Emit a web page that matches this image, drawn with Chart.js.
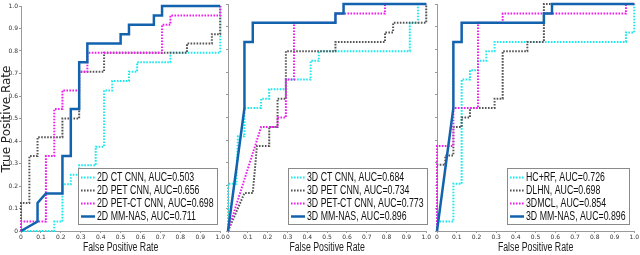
<!DOCTYPE html>
<html>
<head>
<meta charset="utf-8">
<script src="https://cdn.jsdelivr.net/npm/chart.js@4.4.1/dist/chart.umd.min.js"></script>
<style>
  html, body { margin: 0; padding: 0; background: #fff; }
  #wrap { position: relative; width: 640px; height: 255px; overflow: hidden; }
  #wrap canvas { position: absolute; top: 0; }
</style>
</head>
<body>
<div id="wrap">
  <canvas id="roc2d" width="226" height="255" style="left:0"></canvas>
  <canvas id="roc3d" width="208" height="255" style="left:224px"></canvas>
  <canvas id="rocCmp" width="208" height="255" style="left:432px"></canvas>
</div>
<script>
// ---------------------------
// data (fpr / tpr corner points)
// ---------------------------

// panel 1: 2D models
const labels2d = ['2D CT CNN, AUC=0.503', '2D PET CNN, AUC=0.656', '2D PET-CT CNN, AUC=0.698', '2D MM-NAS, AUC=0.711'];
const fpr2dCT = [0, 0.167, 0.167, 0.208, 0.208, 0.25, 0.25, 0.292, 0.292, 0.375, 0.375, 0.417, 0.417, 0.458, 0.458, 0.542, 0.542, 0.583, 0.583, 0.75, 0.75, 1, 1];
const tpr2dCT = [0, 0, 0.042, 0.042, 0.208, 0.208, 0.25, 0.25, 0.292, 0.292, 0.375, 0.375, 0.625, 0.625, 0.667, 0.667, 0.708, 0.708, 0.75, 0.75, 0.792, 0.792, 1];
const fpr2dPET = [0, 0, 0.042, 0.042, 0.083, 0.083, 0.208, 0.208, 0.292, 0.292, 0.417, 0.417, 0.833, 0.833, 0.958, 0.958, 1, 1];
const tpr2dPET = [0, 0.125, 0.125, 0.333, 0.333, 0.417, 0.417, 0.5, 0.5, 0.708, 0.708, 0.792, 0.792, 0.833, 0.833, 0.875, 0.875, 1];
const fpr2dPETCT = [0, 0, 0.125, 0.125, 0.167, 0.167, 0.208, 0.208, 0.292, 0.292, 0.333, 0.333, 0.708, 0.708, 0.75, 0.75, 1, 1];
const tpr2dPETCT = [0, 0.042, 0.042, 0.333, 0.333, 0.542, 0.542, 0.625, 0.625, 0.708, 0.708, 0.792, 0.792, 0.917, 0.917, 0.958, 0.958, 1];
const fpr2dNAS = [0, 0.083, 0.083, 0.125, 0.208, 0.208, 0.25, 0.25, 0.292, 0.292, 0.333, 0.333, 0.5, 0.5, 0.542, 0.542, 0.667, 0.667, 0.708, 0.708, 1];
const tpr2dNAS = [0, 0.042, 0.125, 0.167, 0.167, 0.333, 0.333, 0.542, 0.542, 0.75, 0.75, 0.833, 0.833, 0.875, 0.875, 0.917, 0.917, 0.958, 0.958, 1, 1];

// panel 2: 3D models
const labels3d = ['3D CT CNN, AUC=0.684', '3D PET CNN, AUC=0.734', '3D PET-CT CNN, AUC=0.773', '3D MM-NAS, AUC=0.896'];
const fpr3dCT = [0, 0, 0.042, 0.05, 0.083, 0.083, 0.167, 0.167, 0.208, 0.208, 0.292, 0.292, 0.417, 0.417, 0.458, 0.458, 0.917, 0.917, 0.958, 0.958, 1];
const tpr3dCT = [0, 0.208, 0.208, 0.417, 0.417, 0.542, 0.542, 0.583, 0.583, 0.625, 0.625, 0.667, 0.667, 0.75, 0.75, 0.792, 0.792, 0.917, 0.917, 1, 1];
const fpr3dPET = [0, 0.083, 0.125, 0.146, 0.208, 0.208, 0.25, 0.25, 0.292, 0.292, 0.542, 0.542, 0.792, 0.792, 0.833, 0.833, 1, 1];
const tpr3dPET = [0, 0.167, 0.167, 0.375, 0.375, 0.458, 0.458, 0.583, 0.583, 0.792, 0.792, 0.833, 0.833, 0.875, 0.875, 0.917, 0.917, 1];
const fpr3dPETCT = [0, 0.167, 0.25, 0.25, 0.292, 0.292, 0.333, 0.333, 0.542, 0.542, 0.792, 0.792, 1];
const tpr3dPETCT = [0, 0.458, 0.458, 0.5, 0.5, 0.667, 0.667, 0.917, 0.917, 0.958, 0.958, 1, 1];
const fprNAS = [0, 0.083, 0.083, 0.125, 0.125, 0.542, 0.542, 0.583, 0.583, 1];
const tprNAS = [0, 0.542, 0.833, 0.833, 0.917, 0.917, 0.958, 0.958, 1, 1];

// panel 3: compared methods
const labelsCmp = ['HC+RF, AUC=0.726', 'DLHN, AUC=0.698', '3DMCL, AUC=0.854', '3D MM-NAS, AUC=0.896'];
const fprHCRF = [0, 0, 0.083, 0.083, 0.125, 0.125, 0.167, 0.167, 0.208, 0.208, 0.25, 0.25, 0.292, 0.292, 0.958, 0.958, 1, 1];
const tprHCRF = [0, 0.042, 0.042, 0.208, 0.208, 0.667, 0.667, 0.708, 0.708, 0.75, 0.75, 0.792, 0.792, 0.833, 0.833, 0.875, 0.875, 1];
const fprDLHN = [0, 0, 0.042, 0.042, 0.083, 0.083, 0.125, 0.125, 0.167, 0.167, 0.292, 0.292, 0.333, 0.333, 0.458, 0.458, 0.542, 0.542, 1];
const tprDLHN = [0, 0.292, 0.292, 0.333, 0.333, 0.458, 0.458, 0.5, 0.5, 0.542, 0.542, 0.583, 0.583, 0.792, 0.792, 0.833, 0.833, 1, 1];
const fprMCL = [0, 0, 0.083, 0.083, 0.208, 0.208, 0.333, 0.333, 0.958, 0.958, 1];
const tprMCL = [0, 0.375, 0.375, 0.542, 0.542, 0.917, 0.917, 0.958, 0.958, 1, 1];

const axisTicks = { min: 0, max: 1, step: 0.1 };
const xTitle = 'False Positive Rate';
const yTitle = 'True Positive Rate';

// ---------------------------
// styles
// ---------------------------
const FONT = '"Liberation Sans", Arial, sans-serif';
const NARROW = 0.73;   // horizontal squeeze, the figure uses a narrow face
const lineStyles = [
    { color: '#1de8ee', dash: [1.6, 1.4], width: 2, order: 3 },   // cyan dotted
    { color: '#555555', dash: [1.6, 1.4], width: 2, order: 2 },   // gray dotted
    { color: '#ee1fee', dash: [1.6, 1.4], width: 2, order: 1 },   // magenta dotted
    { color: '#1262ae', dash: [], width: 2.5, order: 0 }          // blue solid
];

const pts = (xs, ys) => xs.map((x, i) => ({ x: x, y: ys[i] }));

function narrowText(ctx, text, x, y, align) {
    ctx.save();
    ctx.translate(x, y);
    ctx.scale(NARROW, 1);
    ctx.textAlign = align;
    ctx.fillText(text, 0, 0);
    ctx.restore();
}

// legend box (lower right of the plot) and axis titles
const boxLegend = {
    id: 'boxLegend',
    afterDatasetsDraw(chart, args, opts) {
        const ctx = chart.ctx;
        const area = chart.chartArea;
        const sets = chart.data.datasets;
        ctx.save();
        ctx.font = '12px ' + FONT;
        let tw = 0;
        sets.forEach(d => { tw = Math.max(tw, ctx.measureText(d.label).width * NARROW); });
        const rowH = 13, sample = 14;
        const w = Math.round(3 + sample + 2 + tw + 4);
        const h = sets.length * rowH + 5;
        const right = Math.round(area.right + opts.dx);
        const bottom = Math.round(area.bottom - 6);
        const left = right - w, top = bottom - h;
        ctx.fillStyle = '#fff';
        ctx.fillRect(left, top, w, h);
        ctx.strokeStyle = '#8a8a8a';
        ctx.lineWidth = 1;
        ctx.strokeRect(left + 0.5, top + 0.5, w - 1, h - 1);
        sets.forEach((d, i) => {
            const y = top + 9.5 + i * rowH;
            ctx.beginPath();
            ctx.setLineDash(d.borderDash || []);
            ctx.lineWidth = d.borderWidth;
            ctx.strokeStyle = d.borderColor;
            ctx.moveTo(left + 3, y);
            ctx.lineTo(left + 3 + sample, y);
            ctx.stroke();
            ctx.setLineDash([]);
            ctx.fillStyle = '#111';
            ctx.textBaseline = 'middle';
            narrowText(ctx, d.label, left + 3 + sample + 2, y + 0.5, 'left');
        });

        // axis titles
        ctx.fillStyle = '#222';
        ctx.textBaseline = 'middle';
        ctx.font = '12px ' + FONT;
        narrowText(ctx, xTitle, (area.left + area.right) / 2, 248, 'center');
        if (opts.showY) {
            ctx.save();
            ctx.translate(7, (area.top + area.bottom) / 2 + 0.5);
            ctx.rotate(-Math.PI / 2);
            ctx.font = '12px "DejaVu Sans", sans-serif';
            ctx.textAlign = 'center';
            ctx.fillText(yTitle, 0, 0);
            ctx.restore();
        }
        ctx.restore();
    }
};

function rocChart(id, labels, curves, opt) {
    const datasets = curves.map((c, i) => ({
        label: labels[i],
        data: pts(c[0], c[1]),
        borderColor: lineStyles[i].color,
        borderDash: lineStyles[i].dash,
        borderWidth: lineStyles[i].width,
        order: lineStyles[i].order,
        pointRadius: 0,
        tension: 0,
        fill: false,
        clip: 4
    }));

    const tickFont = { size: 6, family: '"DejaVu Sans", sans-serif' };

    return new Chart(document.getElementById(id), {
        type: 'line',
        data: { datasets: datasets },
        plugins: [boxLegend],
        options: {
            responsive: false,
            animation: false,
            events: [],
            layout: { padding: opt.padding },
            plugins: {
                legend: { display: false },
                tooltip: { enabled: false },
                boxLegend: { dx: opt.legendDx, showY: opt.showY }
            },
            scales: {
                x: {
                    type: 'linear',
                    min: axisTicks.min,
                    max: axisTicks.max,
                    ticks: { stepSize: axisTicks.step, font: tickFont, color: '#333', padding: 1, maxRotation: 0, autoSkip: false },
                    grid: { drawOnChartArea: false, tickLength: 2, color: '#9a9a9a' },
                    border: { color: '#9a9a9a' },
                    afterFit: s => { s.height = 24; }
                },
                y: {
                    type: 'linear',
                    min: axisTicks.min,
                    max: axisTicks.max,
                    ticks: { display: opt.showY, stepSize: axisTicks.step, font: tickFont, color: '#333', padding: 1, autoSkip: false },
                    grid: { drawOnChartArea: false, tickLength: 2, color: '#9a9a9a' },
                    border: { color: '#9a9a9a' },
                    afterFit: s => { s.width = opt.yWidth; }
                }
            }
        }
    });
}

rocChart('roc2d', labels2d, [
    [fpr2dCT, tpr2dCT], [fpr2dPET, tpr2dPET], [fpr2dPETCT, tpr2dPETCT], [fpr2dNAS, tpr2dNAS]
], { padding: { left: 0, right: 4, top: 6, bottom: 0 }, yWidth: 21, showY: true, legendDx: -2 });

rocChart('roc3d', labels3d, [
    [fpr3dCT, tpr3dCT], [fpr3dPET, tpr3dPET], [fpr3dPETCT, tpr3dPETCT], [fprNAS, tprNAS]
], { padding: { left: 0, right: 4, top: 4, bottom: 0 }, yWidth: 4, showY: false, legendDx: 2 });

rocChart('rocCmp', labelsCmp, [
    [fprHCRF, tprHCRF], [fprDLHN, tprDLHN], [fprMCL, tprMCL], [fprNAS, tprNAS]
], { padding: { left: 0, right: 3, top: 4, bottom: 0 }, yWidth: 5, showY: false, legendDx: -4 });
</script>
</body>
</html>
